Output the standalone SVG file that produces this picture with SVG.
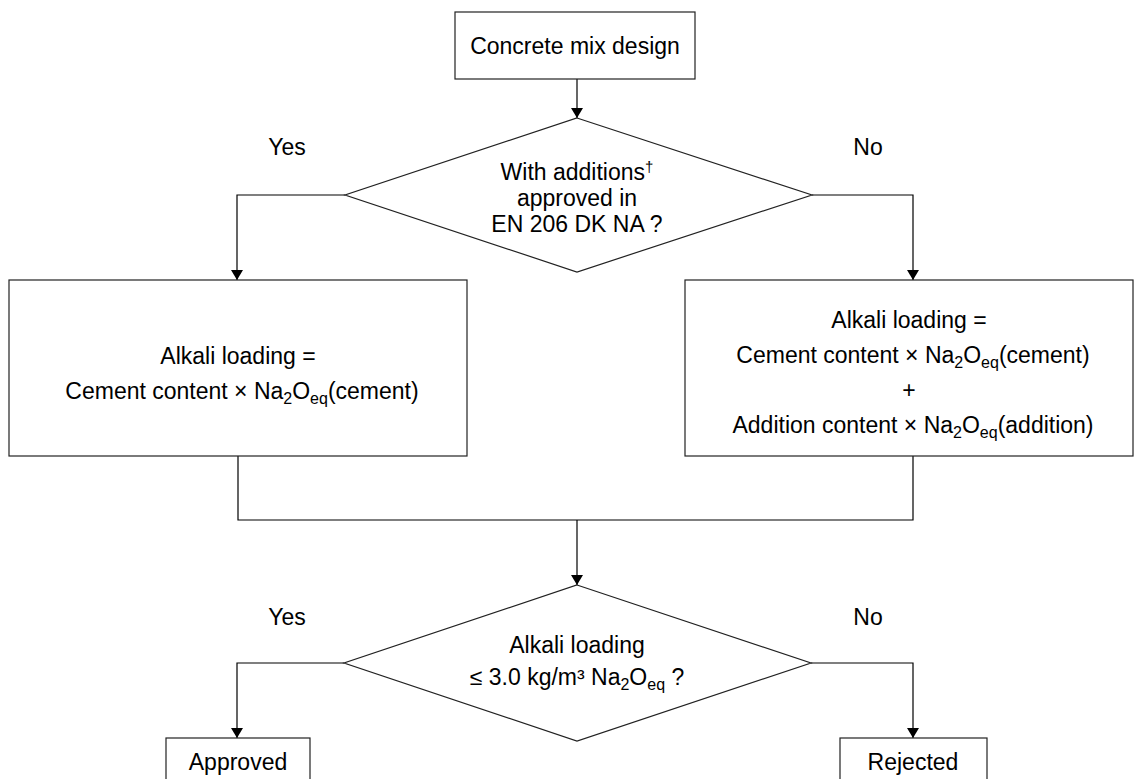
<svg xmlns="http://www.w3.org/2000/svg" width="1135" height="779" viewBox="0 0 1135 779">
<defs>
<marker id="arr" viewBox="0 0 10 12" refX="10" refY="6" markerWidth="10" markerHeight="12" markerUnits="userSpaceOnUse" orient="auto">
<path d="M0,0 L10,6 L0,12 Z" fill="#000"/>
</marker>
<style>
.box{fill:#fff;stroke:#222;stroke-width:1.2}
.ln{fill:none;stroke:#000;stroke-width:1.2}
.ar{fill:none;stroke:#000;stroke-width:1.2;marker-end:url(#arr)}
text{font-family:"Liberation Sans",Arial,sans-serif;font-size:23px;fill:#000;text-anchor:middle}
.sub{font-size:16px}
</style>
</defs>
<rect width="1135" height="779" fill="#fff"/>
<g id="connectors">
<path class="ar" d="M577,79 V118"/>
<path class="ar" d="M345,195 H237 V280"/>
<path class="ar" d="M812,195 H913 V280"/>
<path class="ln" d="M238,456 V520 H913 V456"/>
<path class="ar" d="M577,520 V585"/>
<path class="ar" d="M344,663 H237 V738"/>
<path class="ar" d="M811,663 H913 V738"/>
<text x="287" y="155">Yes</text>
<text x="868" y="155">No</text>
<text x="287" y="625">Yes</text>
<text x="868" y="625">No</text>
</g>
<g id="start">
<rect class="box" x="455" y="12" width="240" height="67"/>
<text x="575" y="54">Concrete mix design</text>
</g>
<g id="decision1">
<polygon class="box" points="577,118 812,195 577,272 345,195"/>
<text x="577" y="180">With additions<tspan font-size="15" dy="-8">†</tspan></text>
<text x="577" y="206">approved in</text>
<text x="577" y="232">EN 206 DK NA ?</text>
</g>
<g id="cement-only">
<rect class="box" x="9" y="280" width="458" height="176"/>
<text x="238" y="364">Alkali loading =</text>
<text x="242" y="399">Cement content × Na<tspan class="sub" dy="5">2</tspan><tspan dy="-5">O</tspan><tspan class="sub" dy="5">eq</tspan><tspan dy="-5">(cement)</tspan></text>
</g>
<g id="with-additions">
<rect class="box" x="685" y="280" width="448" height="176"/>
<text x="909" y="328">Alkali loading =</text>
<text x="913" y="363">Cement content × Na<tspan class="sub" dy="5">2</tspan><tspan dy="-5">O</tspan><tspan class="sub" dy="5">eq</tspan><tspan dy="-5">(cement)</tspan></text>
<text x="909" y="398">+</text>
<text x="913" y="433">Addition content × Na<tspan class="sub" dy="5">2</tspan><tspan dy="-5">O</tspan><tspan class="sub" dy="5">eq</tspan><tspan dy="-5">(addition)</tspan></text>
</g>
<g id="decision2">
<polygon class="box" points="577,585 811,663 577,741 344,663"/>
<text x="577" y="653">Alkali loading</text>
<text x="577" y="685">≤ 3.0 kg/m³ Na<tspan class="sub" dy="5">2</tspan><tspan dy="-5">O</tspan><tspan class="sub" dy="5">eq</tspan><tspan dy="-5"> ?</tspan></text>
</g>
<g id="approved">
<rect class="box" x="166" y="738" width="144" height="60"/>
<text x="238" y="770">Approved</text>
</g>
<g id="rejected">
<rect class="box" x="840" y="738" width="147" height="60"/>
<text x="913" y="770">Rejected</text>
</g>
</svg>
